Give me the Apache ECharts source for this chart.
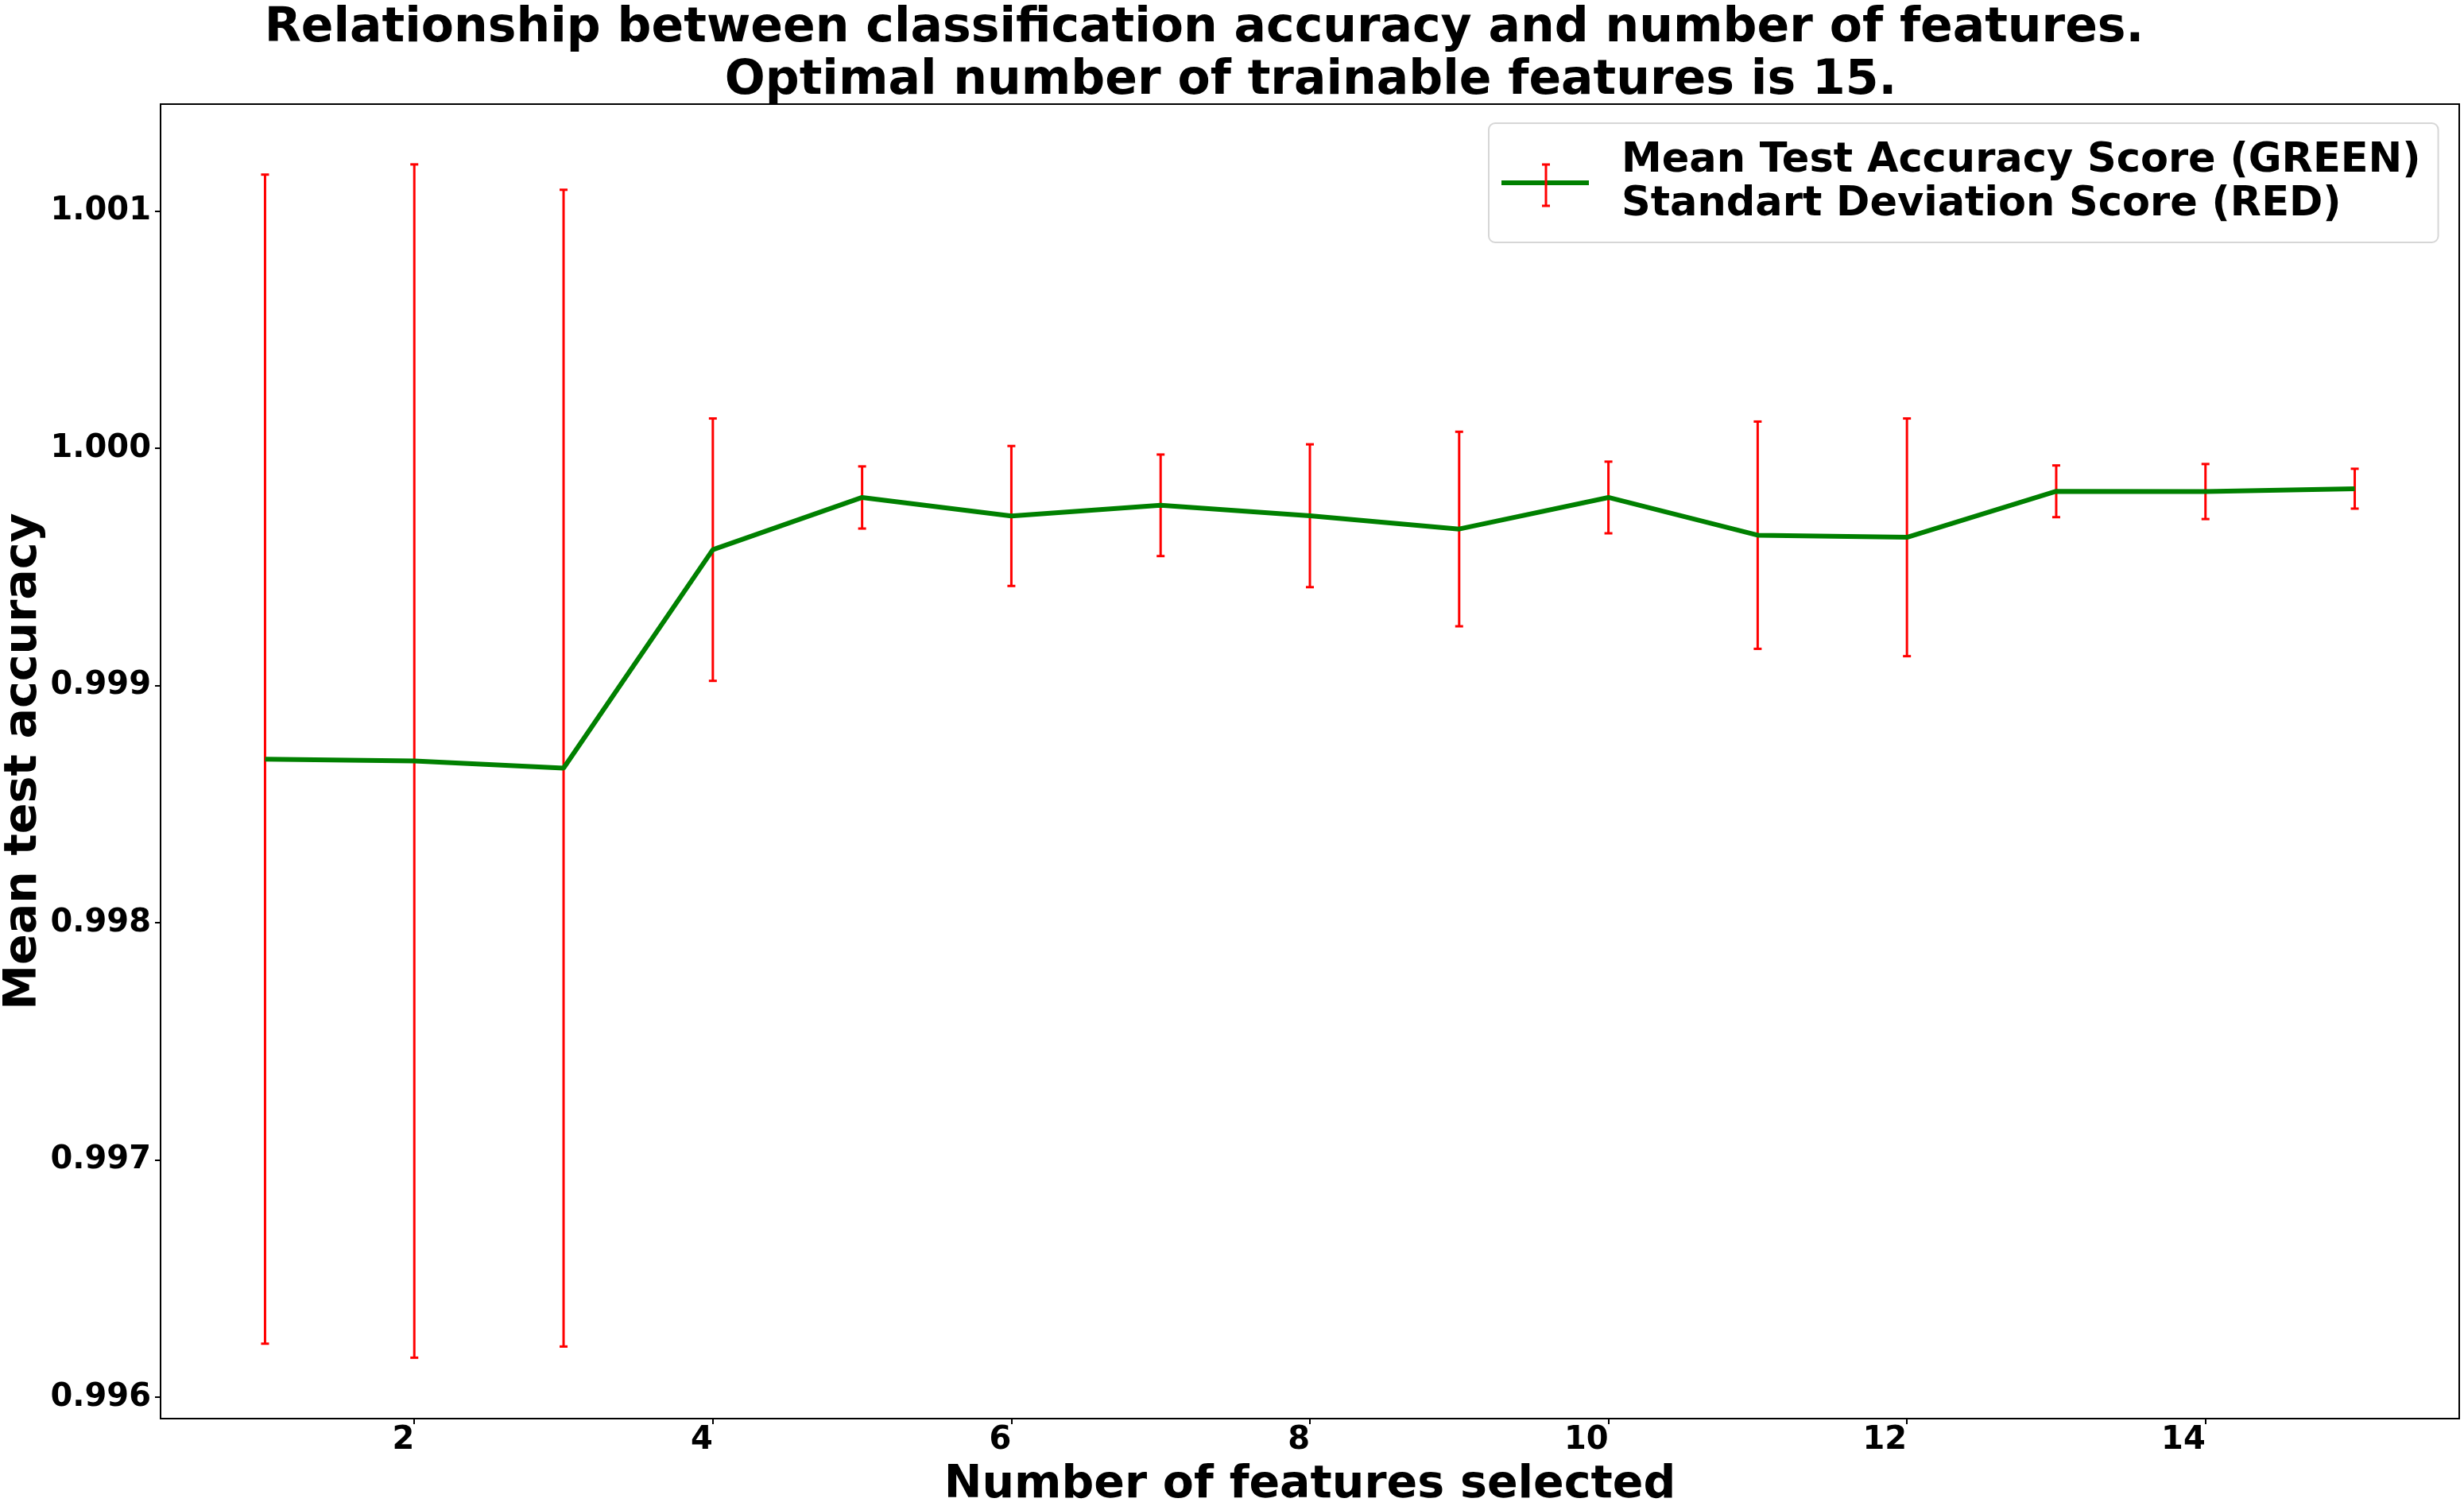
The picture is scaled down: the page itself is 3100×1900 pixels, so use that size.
<!DOCTYPE html>
<html>
<head>
<meta charset="utf-8">
<script src="https://cdn.jsdelivr.net/npm/echarts@6/dist/echarts.min.js"></script>
<style>
  html, body { margin: 0; padding: 0; background: #fff; }
  #chart { width: 3100px; height: 1900px; }
</style>
</head>
<body>
<div id="chart"></div>
<script>
// data
const featureCounts = [1, 2, 3, 4, 5, 6, 7, 8, 9, 10, 11, 12, 13, 14, 15];
const meanScores = [0.998690, 0.998682, 0.998652, 0.999573, 0.999793, 0.999715, 0.999760,
	0.999716, 0.999660, 0.999793, 0.999634, 0.999625, 0.999819, 0.999818, 0.999830];
const stdScores = [0.002464, 0.002515, 0.002438, 0.000553, 0.000131, 0.000295, 0.000214,
	0.000301, 0.000410, 0.000151, 0.000479, 0.000501, 0.000109, 0.000116, 0.000084];
const xTicks = [2, 4, 6, 8, 10, 12, 14];
const yTicks = [0.996, 0.997, 0.998, 0.999, 1.000, 1.001];

const titleLine1 = 'Relationship between classification accuracy and number of features.';
const titleLine2 = 'Optimal number of trainable features is 15.';
const legendName = 'Mean Test Accuracy Score (GREEN)\nStandart Deviation Score (RED)';

const FONT = 'DejaVu Sans';
const GREEN = '#008000';
const RED = '#ff0000';

let meanData = [];
let barData = [];
for (let [i, x] of featureCounts.entries()) {
	meanData.push([x, meanScores[i]]);
	barData.push([x, meanScores[i] - stdScores[i], meanScores[i] + stdScores[i]]);
}

const renderErrorBar = (params, api) => {
	let x = api.value(0);
	let lo = api.coord([x, api.value(1)]);
	let hi = api.coord([x, api.value(2)]);
	let cap = 5;
	let barStyle = { stroke: RED, lineWidth: 3 };
	let capStyle = { stroke: RED, lineWidth: 3 };
	return {
		type: 'group',
		children: [
			{ type: 'line', shape: { x1: lo[0], y1: lo[1], x2: hi[0], y2: hi[1] }, style: barStyle },
			{ type: 'line', shape: { x1: lo[0] - cap, y1: lo[1], x2: lo[0] + cap, y2: lo[1] }, style: capStyle },
			{ type: 'line', shape: { x1: hi[0] - cap, y1: hi[1], x2: hi[0] + cap, y2: hi[1] }, style: capStyle },
		],
	};
};

let myChart = echarts.init(document.getElementById('chart'), null, { renderer: 'canvas' });

let titleStyle = { fontFamily: FONT, fontSize: 60, fontWeight: 'bold', color: '#000', lineHeight: 60 };
let labelStyle = { fontFamily: FONT, fontSize: 40, fontWeight: 'bold', color: '#000' };
let nameStyle = { fontFamily: FONT, fontSize: 57, fontWeight: 'bold', color: '#000', lineHeight: 57 };

let option = {
	animation: false,
	backgroundColor: '#fff',
	title: [
		{ text: titleLine1, left: 1515, top: 6, padding: 0, textAlign: 'center', textStyle: titleStyle },
		{ text: titleLine2, left: 1649, top: 72, padding: 0, textAlign: 'center', textStyle: titleStyle },
	],
	grid: {
		left: 202,
		top: 131,
		right: 6,
		bottom: 115,
		show: true,
		borderColor: '#000',
		borderWidth: 2,
		containLabel: false,
		outerBoundsMode: 'none',
	},
	legend: {
		left: 1873,
		top: 155,
		orient: 'vertical',
		selectedMode: false,
		padding: [20, 22, 20, 16],
		itemWidth: 110,
		itemHeight: 6,
		borderColor: '#d6d6d6',
		borderWidth: 2,
		borderRadius: 8,
		backgroundColor: '#fff',
		textStyle: {
			fontFamily: FONT,
			fontSize: 51,
			fontWeight: 'bold',
			color: '#000',
			lineHeight: 55,
			padding: [0, 0, 0, 36],
		},
		data: [{ name: legendName, icon: 'rect' }],
	},
	xAxis: {
		type: 'value',
		min: 0.3,
		max: 15.7,
		name: 'Number of features selected',
		nameLocation: 'middle',
		nameGap: 56,
		nameMoveOverlap: false,
		nameTextStyle: nameStyle,
		axisLine: { show: false },
		splitLine: { show: false },
		axisTick: { show: true, length: 7, customValues: xTicks, lineStyle: { color: '#000', width: 2 } },
		axisLabel: Object.assign({ customValues: xTicks, margin: 8, align: 'right', lineHeight: 40 }, labelStyle),
	},
	yAxis: {
		type: 'value',
		min: 0.9959102,
		max: 1.0014511,
		name: 'Mean test accuracy',
		nameLocation: 'middle',
		nameGap: 143,
		nameMoveOverlap: false,
		nameTextStyle: nameStyle,
		axisLine: { show: false },
		splitLine: { show: false },
		axisTick: { show: true, length: 7, customValues: yTicks, lineStyle: { color: '#000', width: 2 } },
		axisLabel: Object.assign({ customValues: yTicks, margin: 12, formatter: (v) => v.toFixed(3) }, labelStyle),
	},
	series: [
		{
			name: 'Standart Deviation',
			type: 'custom',
			renderItem: renderErrorBar,
			data: barData,
			z: 1,
			silent: true,
		},
		{
			name: legendName,
			type: 'line',
			data: meanData,
			showSymbol: false,
			symbol: 'none',
			z: 2,
			itemStyle: { color: GREEN },
			lineStyle: { color: GREEN, width: 6 },
		},
	],
	graphic: [
		{ type: 'line', z: 100, shape: { x1: 1945, y1: 207, x2: 1945, y2: 259 }, style: { stroke: RED, lineWidth: 3 } },
		{ type: 'line', z: 100, shape: { x1: 1940, y1: 207, x2: 1950, y2: 207 }, style: { stroke: RED, lineWidth: 3 } },
		{ type: 'line', z: 100, shape: { x1: 1940, y1: 259, x2: 1950, y2: 259 }, style: { stroke: RED, lineWidth: 3 } },
	],
};

myChart.setOption(option, true);
window.addEventListener('resize', () => {
	myChart.resize();
});
</script>
</body>
</html>
